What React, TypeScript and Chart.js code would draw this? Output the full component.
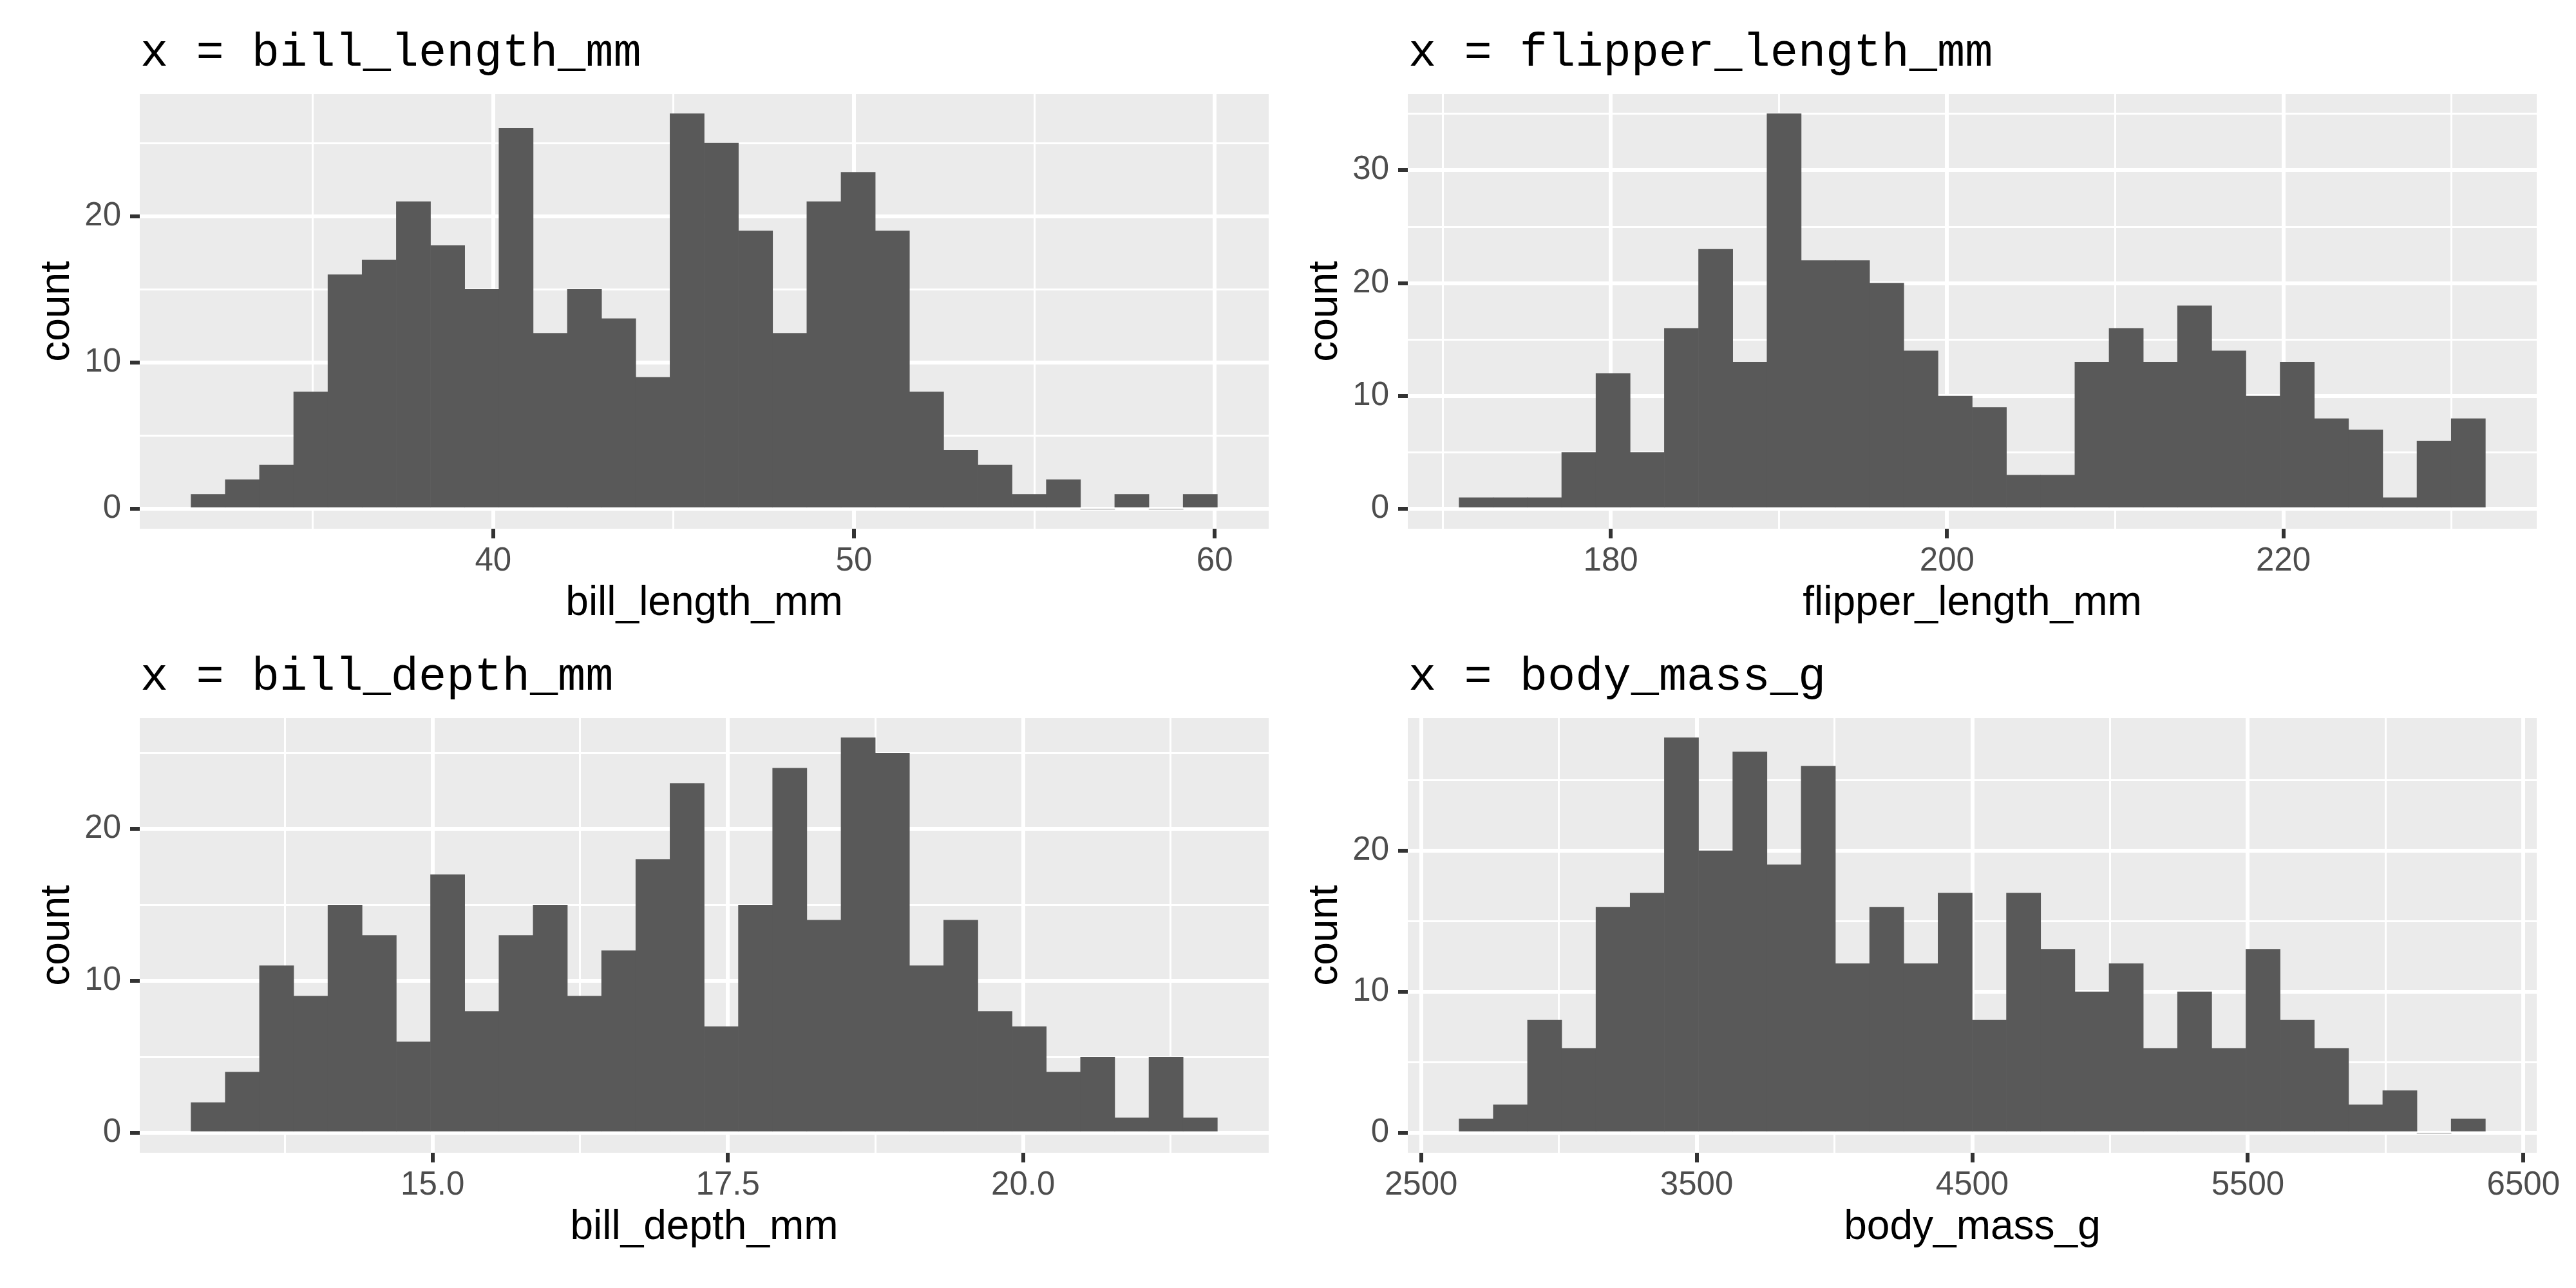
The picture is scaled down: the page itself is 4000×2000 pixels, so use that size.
import React, { useEffect, useRef } from 'react';
import { Chart, registerables } from 'chart.js';

Chart.register(...registerables);

// ---------- data (counts, 30 bins each) ----------
const billLengthCounts = [1, 2, 3, 8, 16, 17, 21, 18, 15, 26, 12, 15, 13, 9, 27, 25, 19, 12, 21, 23, 19, 8, 4, 3, 1, 2, 0, 1, 0, 1];
const billLengthRange = [32.1, 59.6];
const billLengthXTicks = [40, 50, 60];
const billLengthXLabels = ['40', '50', '60'];
const billLengthXMinor = [35, 45, 55];
const billLengthYTicks = [0, 10, 20];
const billLengthYMinor = [5, 15, 25];

const flipperCounts = [1, 1, 1, 5, 12, 5, 16, 23, 13, 35, 22, 22, 20, 14, 10, 9, 3, 3, 13, 16, 13, 18, 14, 10, 13, 8, 7, 1, 6, 8];
const flipperRange = [172, 231];
const flipperXTicks = [180, 200, 220];
const flipperXLabels = ['180', '200', '220'];
const flipperXMinor = [170, 190, 210, 230];
const flipperYTicks = [0, 10, 20, 30];
const flipperYMinor = [5, 15, 25, 35];

const billDepthCounts = [2, 4, 11, 9, 15, 13, 6, 17, 8, 13, 15, 9, 12, 18, 23, 7, 15, 24, 14, 26, 25, 11, 14, 8, 7, 4, 5, 1, 5, 1];
const billDepthRange = [13.1, 21.5];
const billDepthXTicks = [15, 17.5, 20];
const billDepthXLabels = ['15.0', '17.5', '20.0'];
const billDepthXMinor = [13.75, 16.25, 18.75, 21.25];
const billDepthYTicks = [0, 10, 20];
const billDepthYMinor = [5, 15, 25];

const bodyMassCounts = [1, 2, 8, 6, 16, 17, 28, 20, 27, 19, 26, 12, 16, 12, 17, 8, 17, 13, 10, 12, 6, 10, 6, 13, 8, 6, 2, 3, 0, 1];
const bodyMassRange = [2700, 6300];
const bodyMassXTicks = [2500, 3500, 4500, 5500, 6500];
const bodyMassXLabels = ['2500', '3500', '4500', '5500', '6500'];
const bodyMassXMinor = [3000, 4000, 5000, 6000];
const bodyMassYTicks = [0, 10, 20];
const bodyMassYMinor = [5, 15, 25];

// ---------- panel definitions ----------
type PanelSpec = {
  variable: string;
  counts: number[];
  range: number[];
  xTicks: number[];
  xLabels: string[];
  xMinor: number[];
  yTicks: number[];
  yMinor: number[];
  left: number;
  top: number;
};

const panels: PanelSpec[] = [
  { variable: 'bill_length_mm', counts: billLengthCounts, range: billLengthRange, xTicks: billLengthXTicks, xLabels: billLengthXLabels, xMinor: billLengthXMinor, yTicks: billLengthYTicks, yMinor: billLengthYMinor, left: 0, top: 0 },
  { variable: 'flipper_length_mm', counts: flipperCounts, range: flipperRange, xTicks: flipperXTicks, xLabels: flipperXLabels, xMinor: flipperXMinor, yTicks: flipperYTicks, yMinor: flipperYMinor, left: 1969, top: 0 },
  { variable: 'bill_depth_mm', counts: billDepthCounts, range: billDepthRange, xTicks: billDepthXTicks, xLabels: billDepthXLabels, xMinor: billDepthXMinor, yTicks: billDepthYTicks, yMinor: billDepthYMinor, left: 0, top: 969 },
  { variable: 'body_mass_g', counts: bodyMassCounts, range: bodyMassRange, xTicks: bodyMassXTicks, xLabels: bodyMassXLabels, xMinor: bodyMassXMinor, yTicks: bodyMassYTicks, yMinor: bodyMassYMinor, left: 1969, top: 969 },
];

const CANVAS_W = 2031;
const CANVAS_H = 1031;
const AREA_LEFT = 217;
const AREA_TOP = 146;
const AREA_RIGHT = 1970;
const AREA_BOTTOM = 821;
const X_AXIS_H = 179;

const SANS = '"Liberation Sans", Arial, sans-serif';
const MONO = '"Liberation Mono", "Courier New", monospace';

const panelPlugin = {
  id: 'ggpanel',
  beforeDraw(chart: any) {
    const { ctx, chartArea: a } = chart;
    ctx.save();
    ctx.fillStyle = '#EBEBEB';
    ctx.fillRect(a.left, a.top, a.right - a.left, a.bottom - a.top);
    const title = chart.options.plugins.ggpanel?.title || '';
    ctx.font = '72px ' + MONO;
    ctx.fillStyle = '#000000';
    ctx.textBaseline = 'alphabetic';
    ctx.textAlign = 'left';
    ctx.fillText(title, a.left + 1, a.top - 44);
    ctx.restore();
  },
};

function Panel({ spec }: { spec: PanelSpec }) {
  const ref = useRef<HTMLCanvasElement | null>(null);

  useEffect(() => {
    const canvas = ref.current;
    if (!canvas) return;
    const n = spec.counts.length;
    const bw = (spec.range[1] - spec.range[0]) / (n - 1);
    const centers = spec.counts.map((_, i) => spec.range[0] + i * bw);
    const lo = spec.range[0] - bw / 2;
    const hi = spec.range[1] + bw / 2;
    const xpad = (hi - lo) * 0.05;
    const ymax = Math.max(...spec.counts);
    const ypad = ymax * 0.05;

    const xAll = [...spec.xTicks, ...spec.xMinor].sort((a, b) => a - b);
    const yAll = [...spec.yTicks, ...spec.yMinor].sort((a, b) => a - b);
    const isXMajor = (v: number) => spec.xTicks.indexOf(v) >= 0;
    const isYMajor = (v: number) => spec.yTicks.indexOf(v) >= 0;

    const chart = new Chart(canvas, {
      type: 'bar',
      data: {
        datasets: [
          {
            data: centers.map((x, i) => ({ x, y: spec.counts[i] })),
            backgroundColor: '#595959',
            borderWidth: 0,
            barPercentage: 1,
            categoryPercentage: 1,
          } as any,
        ],
      },
      options: {
        animation: false,
        responsive: false,
        maintainAspectRatio: false,
        devicePixelRatio: 1,
        layout: { padding: { left: 0, top: AREA_TOP, right: CANVAS_W - AREA_RIGHT, bottom: CANVAS_H - AREA_BOTTOM - X_AXIS_H } },
        plugins: {
          legend: { display: false },
          tooltip: { enabled: false },
          title: { display: false },
          ggpanel: { title: 'x = ' + spec.variable },
        } as any,
        scales: {
          x: {
            type: 'linear',
            min: lo - xpad,
            max: hi + xpad,
            offset: false,
            afterBuildTicks: (s: any) => {
              s.ticks = xAll.map((v) => ({ value: v }));
            },
            afterFit: (s: any) => {
              s.height = X_AXIS_H;
            },
            ticks: {
              autoSkip: false,
              maxRotation: 0,
              minRotation: 0,
              padding: 5,
              color: '#4D4D4D',
              font: { family: SANS, size: 51 },
              callback: (v: any) => {
                const i = spec.xTicks.indexOf(Number(v));
                return i >= 0 ? spec.xLabels[i] : '';
              },
            },
            grid: {
              color: '#FFFFFF',
              lineWidth: (c: any) => (c.tick && isXMajor(c.tick.value) ? 6 : 3),
              drawTicks: true,
              tickLength: 15,
              tickWidth: 6,
              tickColor: (c: any) => (c.tick && isXMajor(c.tick.value) ? '#333333' : 'rgba(0,0,0,0)'),
              offset: false,
            },
            border: { display: false },
            title: {
              display: true,
              text: spec.variable,
              color: '#000000',
              font: { family: SANS, size: 64 },
              padding: { top: 0, bottom: 24 },
            },
          },
          y: {
            type: 'linear',
            min: -ypad,
            max: ymax + ypad,
            afterBuildTicks: (s: any) => {
              s.ticks = yAll.map((v) => ({ value: v }));
            },
            afterFit: (s: any) => {
              s.width = AREA_LEFT;
            },
            ticks: {
              autoSkip: false,
              padding: 14,
              color: '#4D4D4D',
              font: { family: SANS, size: 51 },
              callback: (v: any) => (isYMajor(Number(v)) ? String(v) : ''),
            },
            grid: {
              color: '#FFFFFF',
              lineWidth: (c: any) => (c.tick && isYMajor(c.tick.value) ? 6 : 3),
              drawTicks: true,
              tickLength: 15,
              tickWidth: 6,
              tickColor: (c: any) => (c.tick && isYMajor(c.tick.value) ? '#333333' : 'rgba(0,0,0,0)'),
            },
            border: { display: false },
            title: {
              display: true,
              text: 'count',
              color: '#000000',
              font: { family: SANS, size: 64 },
              padding: { top: 51, bottom: 0 },
            },
          },
        },
      } as any,
      plugins: [panelPlugin],
    });

    return () => {
      chart.destroy();
    };
  }, [spec]);

  return (
    <canvas
      ref={ref}
      width={CANVAS_W}
      height={CANVAS_H}
      style={{ position: 'absolute', left: spec.left, top: spec.top, width: CANVAS_W, height: CANVAS_H, display: 'block' }}
    />
  );
}

export default function App() {
  return (
    <div style={{ position: 'absolute', left: 0, top: 0, width: 4000, height: 2000, background: '#FFFFFF', overflow: 'hidden' }}>
      {panels.map((p) => (
        <Panel key={p.variable} spec={p} />
      ))}
    </div>
  );
}
